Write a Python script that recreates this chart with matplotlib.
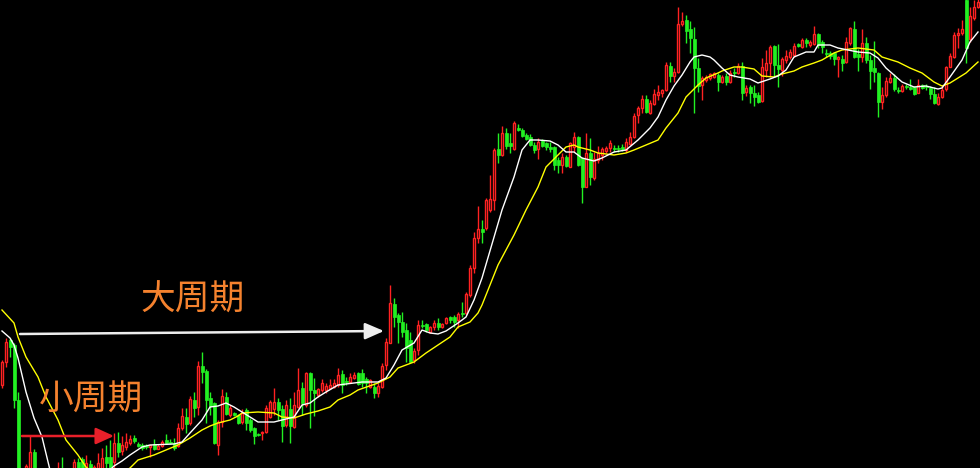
import matplotlib
matplotlib.use("Agg")
import matplotlib.pyplot as plt
import numpy as np

# ---------------- data (price units) ----------------
opens = [115,138,160,155,100,20,20,25,48,25, 22,18,20,16,20,30,22,18,25,38,
         41,28,36,26,28,30,43,43,38,57, 49,53,57,62,56,55,54,53,56,51,
         54,60,58,57,54,72,83,77,100,93, 134,129,102,97,55,78,103,85,87,85,
         78,90,80,72,66,67,68,83,91,98, 91,75,91,73,93,112,95,127,110,105,
         110,110,112,113,115,126,119,118,122,127, 127,121,113,113,107,113,135,157,196,185,
         178,170,160,140,150,175,176,168,173,177, 173,177,183,183,180,187,187,205,232,262,
         271,272,290,300,351,345,367,357,351,372, 370,365,363,355,351,359,357,353,353,340,
         335,343,333,353,363,342,313,347,322,340, 345,349,352,352,352,353,350,356,363,385,
         392,401,387,396,405,407,410,434,424,428, 476,480,471,461,432,415,420,422,423,425,
         418,424,418,428,427,434,408,413,407,405, 399,430,437,454,435,430,440,443,445,456,
         453,460,455,456,466,458,447,447,447,441, 441,438,457,471,446,443,457,440,432,427,
         398,405,418,422,410,409,414,413,413,407, 415,414,412,406,396,403,411,433,443,465,
         467,500,461,482,493]
highs = [140,162,162,157,108,30,36,64,51,30, 28,25,26,24,38,43,29,28,41,42,
         43,45,40,35,47,52,55,60,67,68, 64,67,65,65,58,57,56,55,61,56,
         60,66,61,62,77,92,92,104,108,139, 148,131,108,98,80,111,108,95,88,86,
         91,92,82,73,67,69,95,100,112,102, 95,100,102,108,132,118,128,128,122,112,
         121,117,121,121,132,130,123,127,128,128, 131,123,121,117,117,137,162,215,202,187,
         188,177,168,152,180,180,177,174,180,182, 177,183,184,185,188,198,208,235,268,294,
         280,302,325,352,367,374,372,367,379,376, 372,367,366,358,362,361,358,358,354,343,
         347,345,358,368,364,343,367,362,348,354, 353,354,360,355,355,356,362,368,387,394,
         405,405,400,411,415,411,438,438,432,493, 488,485,479,473,442,424,425,427,428,427,
         425,427,430,432,437,438,415,415,415,408, 442,450,455,455,456,443,450,451,457,457,
         462,462,460,474,467,460,451,449,448,444, 445,463,473,479,451,471,463,445,459,428,
         413,423,427,426,413,416,416,421,414,421, 416,416,414,413,407,415,434,447,468,472,
         480,505,493,500,502]
lows = [112,133,143,92,10,8,15,20,20,15, 12,10,12,10,15,18,14,12,20,24,
        26,24,28,22,25,26,32,26,32,43, 45,50,55,57,53,50,51,43,50,51,
        53,56,56,50,53,70,67,75,83,85, 117,77,85,56,45,73,85,83,84,76,
        76,70,68,56,64,60,67,82,85,80, 58,73,57,72,92,85,93,72,84,103,
        108,107,111,112,113,107,115,117,121,115, 113,107,112,102,103,112,130,157,173,157,
        163,138,138,137,145,172,168,167,170,170, 172,176,177,173,172,183,185,203,227,257,
        257,270,288,290,337,344,351,347,350,369, 363,360,354,347,341,353,350,348,330,327,
        327,333,333,348,334,297,313,315,320,337, 340,347,348,348,348,349,348,355,362,377,
        387,387,386,395,400,403,409,418,418,427, 474,457,447,387,408,400,418,420,422,409,
        417,415,417,423,426,400,404,397,394,397, 398,423,423,423,413,424,437,441,443,453,
        452,453,453,455,452,447,443,441,435,423, 429,437,455,442,429,438,437,411,418,383,
        391,403,417,409,407,408,411,410,405,407, 411,410,401,396,395,402,409,433,442,452,
        465,437,458,480,492]
closes = [138,158,153,100,20,15,34,48,25,22, 18,20,16,22,30,22,18,24,38,28,
          30,37,32,33,37,42,37,30,57,48, 55,58,61,59,54,52,53,55,51,54,
          58,57,57,52,72,84,76,101,92,134, 128,100,94,57,78,104,86,92,85,77,
          87,77,70,64,65,68,92,98,98,90, 74,95,74,95,110,97,127,110,107,111,
          117,114,115,117,125,115,118,123,125,116, 117,117,120,107,114,134,158,197,183,178,
          168,152,138,149,175,174,170,173,177,173, 176,182,180,178,186,186,206,232,262,271,
          268,300,301,350,345,367,354,354,377,370, 364,361,355,350,358,354,353,351,335,335,
          343,334,357,363,335,313,347,323,341,347, 351,352,357,351,351,351,358,363,384,392,
          401,388,397,406,408,410,435,424,428,476, 479,469,462,432,414,422,423,426,427,418,
          423,418,427,427,434,407,412,407,403,398, 433,437,453,435,431,441,444,448,454,454,
          460,457,458,466,455,453,446,444,441,443, 437,458,472,443,443,457,440,429,428,398,
          405,419,422,411,409,414,413,411,406,415, 412,413,406,397,403,410,433,444,465,467,
          471,452,484,493,498]

# moving averages: (bar index, value)
ma_fast_idx = [0,2,3,4,6,8,10,12,16,22,26,28,30,32,35,37,43,45,47,50,52,54,56,58,60,62,64,68,70,73,
               75,77,79,81,84,88,90,94,96,98,100,103,105,107,109,111,114,116,118,120,125,128,130,132,134,
               137,139,141,143,145,148,150,153,156,159,162,164,166,168,170,172,173,175,177,178,180,182,
               184,187,189,192,194,196,198,201,203,204,207,209,214,217,219,221,223,225,228,231,234,235,
               237,240,242,244]
ma_fast_val = [169,162,155,142,108,82,63,30,10,15,26,34,39,45,53,55,56,58,67,80,93,94,97,93,88,83,78,78,80,83,
               95,97,103,108,115,117,118,118,122,135,150,157,170,167,166,169,177,183,200,222,290,323,350,360,360,
               359,355,348,348,342,339,342,348,350,360,372,383,400,414,425,438,443,445,443,440,432,425,
               423,421,417,421,424,430,443,448,448,455,455,452,448,447,442,432,425,418,413,414,411,412,
               423,440,458,468]
ma_slow_idx = [0,3,4,6,9,11,14,16,19,21,25,29,32,34,38,41,44,47,50,52,54,57,59,60,64,68,70,73,76,79,
               82,84,87,89,94,97,99,103,106,109,112,114,117,119,120,124,128,131,134,136,139,141,143,144,147,
               149,153,156,158,161,164,166,169,171,174,176,179,180,183,185,188,190,193,195,198,200,203,205,
               208,210,214,218,220,224,227,230,233,235,237,241,244]
ma_slow_val = [190,177,163,143,123,103,80,60,45,33,20,24,32,40,45,50,55,62,70,74,77,80,84,87,88,87,83,82,86,89,
               93,100,105,110,117,123,132,138,147,155,163,173,178,187,195,235,265,290,313,333,345,353,355,353,350,
               347,345,347,350,355,360,372,387,403,415,422,427,429,433,433,431,424,423,426,429,433,437,440,
               447,450,452,450,443,438,432,427,418,414,417,427,438]

labels = ["大周期", "小周期"]

# ---------------- figure ----------------
fig = plt.figure(figsize=(9.8, 4.68), dpi=100, facecolor="black")
ax = fig.add_axes([0, 0, 1, 1], facecolor="black")
ax.set_axis_off()

n = len(closes)
x = np.arange(n)
o = np.array(opens, float); h = np.array(highs, float)
l = np.array(lows, float); c = np.array(closes, float)
up = c >= o

RED = "#ff2222"
GREEN = "#22f022"

ax.vlines(x[up], l[up], h[up], color=RED, lw=1.0, zorder=2)
ax.vlines(x[~up], l[~up], h[~up], color=GREEN, lw=1.0, zorder=2)

body_h = np.abs(c - o)
body_h = np.where(body_h < 0.8, 0.8, body_h)
ax.bar(x[up], body_h[up], bottom=np.minimum(o, c)[up], width=0.62,
       facecolor="black", edgecolor=RED, linewidth=1.0, zorder=3)
ax.bar(x[~up], body_h[~up], bottom=np.minimum(o, c)[~up], width=0.75,
       facecolor=GREEN, edgecolor=GREEN, linewidth=0.5, zorder=3)

ax.plot(ma_slow_idx, ma_slow_val, color="#ffff00", lw=1.0, zorder=4)
ax.plot(ma_fast_idx, ma_fast_val, color="#ffffff", lw=1.0, zorder=5)

ax.set_xlim(-0.5, n - 0.5)
ax.set_ylim(32, 500)

# arrows (annotation, placed in axes fraction)
ax.annotate("", xy=(384/980, 1-331/468), xytext=(20/980, 1-334/468),
            xycoords="axes fraction", textcoords="axes fraction",
            arrowprops=dict(arrowstyle="-|>,head_length=1.15,head_width=0.5",
                            color="#eeeeee", lw=1.8, shrinkA=0, shrinkB=0,
                            mutation_scale=10), zorder=6)
ax.annotate("", xy=(114/980, 1-436/468), xytext=(22/980, 1-436/468),
            xycoords="axes fraction", textcoords="axes fraction",
            arrowprops=dict(arrowstyle="-|>,head_length=1.1,head_width=0.5",
                            color="#e8202a", lw=1.8, shrinkA=0, shrinkB=0,
                            mutation_scale=10), zorder=6)

ORANGE = "#f5822e"
ax.text(193/980, 1-300/468, labels[0], transform=ax.transAxes, ha="center", va="center",
        fontsize=25, color=ORANGE, family=["Noto Sans CJK SC", "DejaVu Sans"], zorder=7)
ax.text(91/980, 1-400/468, labels[1], transform=ax.transAxes, ha="center", va="center",
        fontsize=25, color=ORANGE, family=["Noto Sans CJK SC", "DejaVu Sans"], zorder=7)

fig.savefig("out.png", dpi=100, facecolor="black")
